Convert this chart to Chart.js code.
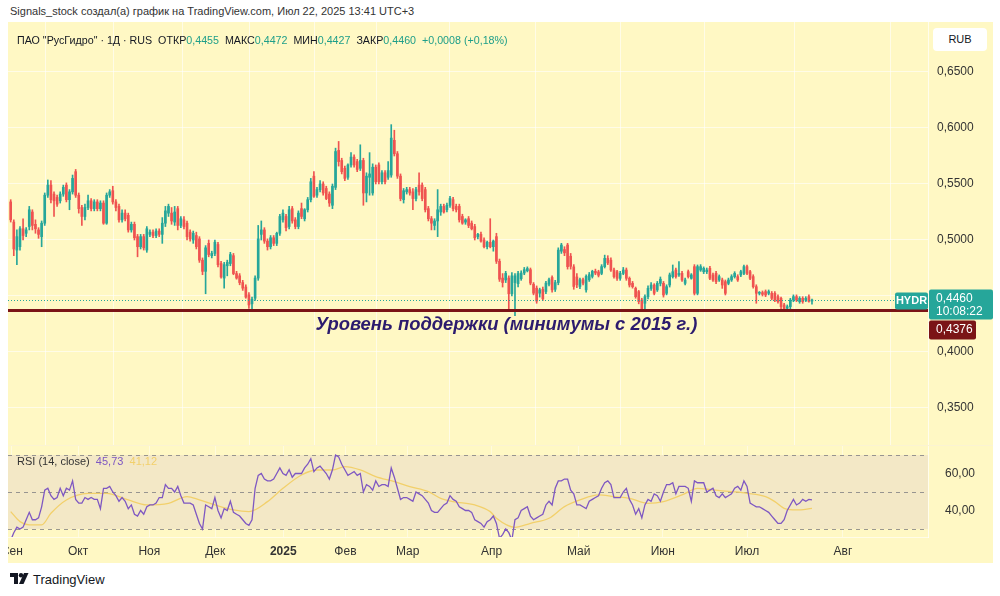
<!DOCTYPE html>
<html lang="ru">
<head>
<meta charset="utf-8">
<script src="https://cdn.jsdelivr.net/npm/chart.js@4.4.1/dist/chart.umd.min.js"></script>
<style>
html,body{margin:0;padding:0;background:#fff;}
body{width:1000px;height:596px;position:relative;overflow:hidden;font-family:"Liberation Sans",Arial,sans-serif;}
#hdr{position:absolute;left:10px;top:5px;font-size:11px;color:#333;white-space:nowrap;}
#panel{position:absolute;left:8px;top:22px;width:985px;height:541px;background:#FFF8C4;}
#c1{position:absolute;left:8px;top:22px;}
#c2{position:absolute;left:8px;top:446px;}
#sep{position:absolute;left:8px;top:445px;width:985px;height:1px;background:#FBF3D2;}
#leg{position:absolute;left:17px;top:34px;font-size:10.7px;color:#131722;white-space:nowrap;}
#leg .v{color:#1E9E89;}
#rub{position:absolute;left:933px;top:28px;width:54px;height:23px;background:#fff;border-radius:4px;font-size:11px;color:#131722;text-align:center;line-height:23px;}
#rsileg{position:absolute;left:17px;top:455px;font-size:11px;color:#333;white-space:nowrap;}
#rsileg .a{color:#7E57C2;}
#rsileg .b{color:#F2D06B;}
#logo{position:absolute;left:10px;top:571px;height:16px;display:flex;align-items:center;font-size:13px;color:#131722;}
#logo svg{margin-right:4px;}
</style>
</head>
<body>
<div id="hdr">Signals_stock создал(а) график на TradingView.com, Июл 22, 2025 13:41 UTC+3</div>
<div id="panel"></div>
<canvas id="c1" width="985" height="423"></canvas>
<div id="sep"></div>
<canvas id="c2" width="985" height="117"></canvas>
<div id="leg"></div>
<div id="rub">RUB</div>
<div id="rsileg"></div>
<div id="logo"><svg width="19" height="12" viewBox="0 0 19 12"><path d="M0 0h8v11H4V4H0z" fill="#131722"/><circle cx="11" cy="2.2" r="2.2" fill="#131722"/><path d="M9 11L14 0h4.5l-5 11z" fill="#131722"/></svg><span>TradingView</span></div>
<script>
// ---------------- DATA ----------------
const opens = [
0.534,0.516,0.491,0.494,0.510,0.506,0.512,0.525,0.514,0.509,
0.503,0.515,0.540,0.549,0.541,0.538,0.535,0.541,0.549,0.536,
0.543,0.561,0.540,0.529,0.521,0.529,0.535,0.528,0.534,0.528,
0.533,0.515,0.540,0.544,0.534,0.530,0.518,0.524,0.522,0.509,
0.514,0.503,0.494,0.503,0.491,0.505,0.507,0.504,0.508,0.505,
0.515,0.524,0.524,0.516,0.528,0.513,0.518,0.515,0.507,0.500,
0.504,0.501,0.482,0.472,0.497,0.486,0.488,0.496,0.479,0.466,
0.477,0.479,0.486,0.470,0.468,0.462,0.458,0.451,0.443,0.448,
0.466,0.505,0.509,0.499,0.494,0.502,0.497,0.506,0.518,0.521,
0.512,0.528,0.518,0.512,0.528,0.519,0.527,0.536,0.557,0.540,
0.545,0.550,0.546,0.541,0.531,0.547,0.580,0.571,0.564,0.556,
0.567,0.574,0.570,0.564,0.571,0.542,0.556,0.542,0.565,0.567,
0.552,0.560,0.556,0.558,0.589,0.577,0.557,0.536,0.543,0.545,
0.543,0.537,0.549,0.549,0.545,0.528,0.519,0.513,0.517,0.525,
0.530,0.527,0.531,0.536,0.530,0.530,0.521,0.516,0.519,0.515,
0.512,0.503,0.505,0.500,0.494,0.498,0.494,0.503,0.481,0.466,
0.4643,0.466,0.452,0.462,0.461,0.4655,0.4705,0.4725,0.4735,0.4605,
0.457,0.4525,0.456,0.454,0.4605,0.4665,0.456,0.462,0.490,0.4915,
0.4955,0.4855,0.476,0.467,0.4585,0.4645,0.4555,0.4645,0.4675,0.472,
0.4715,0.4702,0.4762,0.4836,0.482,0.4732,0.4717,0.4658,0.4702,0.4732,
0.4658,0.4613,0.4568,0.4539,0.4464,0.4435,0.4494,0.4568,0.4598,0.4554,0.4613,
0.4613,0.4524,0.4598,0.4673,0.4732,0.4688,0.4702,0.4613,0.4717,0.4658,
0.4762,0.4524,0.4732,0.4717,0.4717,0.4747,0.4688,0.4702,0.4643,0.4643,
0.4628,0.4613,0.4643,0.4673,0.4673,0.4688,0.4702,0.4762,0.4717,0.4673,
0.4583,0.4524,0.4530,0.4539,0.4524,0.4524,0.4524,0.4494,0.4479,0.4420,
0.4390,0.4405,0.4464,0.4494,0.4449,0.4479,0.4464,0.4494,0.4455
];
const highs = [
0.536,0.518,0.509,0.512,0.519,0.511,0.530,0.527,0.518,0.511,
0.517,0.542,0.5536,0.553,0.543,0.540,0.543,0.549,0.551,0.545,
0.558,0.563,0.542,0.531,0.532,0.540,0.537,0.536,0.536,0.535,
0.535,0.542,0.545,0.548,0.536,0.532,0.527,0.527,0.524,0.516,
0.516,0.505,0.505,0.505,0.512,0.509,0.509,0.510,0.510,0.520,
0.530,0.532,0.529,0.530,0.530,0.521,0.521,0.517,0.509,0.508,
0.507,0.503,0.484,0.495,0.500,0.490,0.500,0.498,0.481,0.480,
0.482,0.489,0.488,0.472,0.470,0.464,0.460,0.453,0.449,0.468,
0.513,0.517,0.511,0.501,0.504,0.504,0.507,0.523,0.527,0.523,
0.530,0.530,0.520,0.526,0.533,0.528,0.538,0.555,0.561,0.547,
0.553,0.552,0.548,0.543,0.550,0.582,0.588,0.573,0.566,0.568,
0.578,0.576,0.572,0.585,0.573,0.560,0.578,0.568,0.567,0.569,
0.562,0.562,0.570,0.603,0.598,0.579,0.559,0.546,0.547,0.547,
0.546,0.547,0.560,0.551,0.547,0.530,0.521,0.519,0.545,0.532,
0.532,0.533,0.539,0.538,0.532,0.532,0.523,0.519,0.521,0.517,
0.514,0.506,0.507,0.502,0.499,0.519,0.500,0.506,0.483,0.470,
0.472,0.468,0.471,0.470,0.472,0.4725,0.4755,0.476,0.475,0.462,
0.459,0.457,0.458,0.463,0.466,0.468,0.464,0.493,0.497,0.494,
0.497,0.488,0.478,0.470,0.466,0.466,0.469,0.471,0.473,0.474,
0.473,0.478,0.4865,0.486,0.484,0.475,0.473,0.472,0.4755,0.475,
0.467,0.463,0.458,0.455,0.448,0.451,0.459,0.462,0.461,0.463,0.467,
0.463,0.460,0.4705,0.4777,0.475,0.4807,0.472,0.466,0.4732,0.470,
0.478,0.4777,0.478,0.476,0.475,0.4765,0.4705,0.472,0.4688,0.466,
0.4643,0.466,0.469,0.4717,0.469,0.473,0.4777,0.4777,0.473,0.469,
0.460,0.454,0.4545,0.4554,0.4554,0.454,0.4539,0.451,0.449,0.4435,
0.442,0.4479,0.451,0.451,0.4494,0.4494,0.4494,0.451,0.4472
];
const lows = [
0.516,0.486,0.478,0.491,0.500,0.503,0.509,0.509,0.506,0.5015,
0.494,0.513,0.538,0.533,0.521,0.530,0.533,0.539,0.534,0.527,
0.541,0.538,0.524,0.513,0.518,0.527,0.526,0.526,0.526,0.526,
0.514,0.514,0.538,0.532,0.526,0.516,0.516,0.517,0.507,0.507,
0.500,0.485,0.492,0.491,0.489,0.503,0.502,0.502,0.503,0.497,
0.512,0.521,0.514,0.513,0.509,0.511,0.510,0.500,0.499,0.497,
0.492,0.480,0.469,0.452,0.485,0.484,0.486,0.476,0.466,0.457,
0.468,0.477,0.469,0.465,0.460,0.455,0.448,0.439,0.4385,0.446,
0.464,0.500,0.497,0.491,0.492,0.495,0.495,0.504,0.516,0.508,
0.510,0.515,0.510,0.510,0.519,0.517,0.525,0.534,0.538,0.538,
0.543,0.540,0.536,0.530,0.528,0.545,0.566,0.559,0.553,0.554,
0.565,0.565,0.561,0.562,0.531,0.534,0.540,0.540,0.550,0.550,
0.550,0.550,0.554,0.556,0.575,0.555,0.535,0.533,0.541,0.540,
0.527,0.535,0.540,0.535,0.525,0.517,0.509,0.509,0.503,0.522,
0.524,0.525,0.529,0.526,0.525,0.516,0.514,0.514,0.511,0.509,
0.500,0.501,0.498,0.493,0.492,0.493,0.490,0.479,0.463,0.458,
0.462,0.4375,0.450,0.4325,0.458,0.464,0.469,0.4715,0.460,0.451,
0.4435,0.449,0.446,0.452,0.459,0.4535,0.454,0.460,0.488,0.486,
0.474,0.474,0.456,0.4575,0.4565,0.460,0.4535,0.463,0.466,0.469,
0.467,0.469,0.475,0.478,0.472,0.466,0.464,0.464,0.469,0.464,
0.458,0.457,0.448,0.443,0.436,0.4365,0.4475,0.455,0.451,0.454,0.459,
0.449,0.451,0.458,0.466,0.466,0.4675,0.463,0.4598,0.466,0.465,
0.4509,0.451,0.472,0.470,0.470,0.4645,0.463,0.461,0.463,0.4568,
0.4509,0.460,0.463,0.466,0.463,0.4673,0.469,0.469,0.4645,0.457,
0.4435,0.4509,0.4500,0.4494,0.451,0.4465,0.445,0.4435,0.4375,0.437,
0.4375,0.436,0.4449,0.445,0.4435,0.4435,0.445,0.4445,0.4427
];
const closes = [
0.518,0.492,0.503,0.510,0.504,0.509,0.527,0.513,0.510,0.505,
0.515,0.540,0.549,0.536,0.535,0.532,0.541,0.547,0.536,0.543,
0.555,0.540,0.528,0.521,0.529,0.535,0.528,0.534,0.528,0.533,
0.515,0.540,0.543,0.534,0.529,0.518,0.524,0.519,0.509,0.514,
0.502,0.494,0.503,0.493,0.510,0.507,0.504,0.508,0.505,0.515,
0.526,0.530,0.517,0.525,0.513,0.519,0.512,0.503,0.501,0.506,
0.494,0.482,0.472,0.493,0.487,0.488,0.498,0.478,0.467,0.478,
0.480,0.487,0.470,0.466,0.462,0.457,0.449,0.442,0.447,0.466,
0.501,0.509,0.499,0.494,0.502,0.497,0.506,0.521,0.524,0.511,
0.527,0.517,0.512,0.524,0.521,0.527,0.536,0.552,0.539,0.545,
0.550,0.542,0.537,0.533,0.548,0.579,0.570,0.561,0.555,0.567,
0.574,0.567,0.563,0.571,0.542,0.557,0.559,0.565,0.552,0.552,
0.560,0.552,0.562,0.591,0.577,0.557,0.537,0.544,0.545,0.542,
0.537,0.545,0.543,0.537,0.527,0.519,0.515,0.517,0.527,0.530,
0.525,0.531,0.537,0.528,0.527,0.518,0.515,0.518,0.513,0.510,
0.502,0.505,0.499,0.494,0.498,0.494,0.499,0.481,0.465,0.462,
0.4702,0.452,0.468,0.468,0.470,0.4705,0.4735,0.4745,0.4615,0.4525,
0.4455,0.4555,0.4475,0.4615,0.4645,0.4555,0.462,0.491,0.4955,0.4885,
0.4762,0.4765,0.4585,0.460,0.4645,0.4615,0.4675,0.469,0.472,0.4705,
0.4685,0.4762,0.4836,0.4795,0.4732,0.4673,0.4658,0.4702,0.4732,0.4658,
0.4598,0.4583,0.4494,0.4450,0.4375,0.4494,0.4568,0.4598,0.4524,0.4613,0.465,
0.4509,0.4583,0.4688,0.4717,0.4673,0.4702,0.4643,0.4643,0.4673,0.4688,
0.4524,0.4762,0.4762,0.4747,0.4732,0.4658,0.4643,0.4628,0.4673,0.4598,
0.4524,0.4643,0.4673,0.4702,0.4643,0.4717,0.4762,0.4702,0.4658,0.4583,
0.4524,0.4530,0.4515,0.4509,0.4539,0.4479,0.4464,0.4449,0.4405,0.4375,
0.4405,0.4464,0.4494,0.4464,0.4479,0.4449,0.4479,0.4452,0.4460
];
const rsi = [
24,28,31,30,31,35,39,35,35,36,
42,51,52,48,46,47,52,48,52,51,
56,46,44,44,47,46,47,46,46,41,
52,52,53,50,48,45,47,45,41,43,
38,37,40,38,42,43,43,44,47,47,
54,52,52,50,53,48,44,44,44,43,
38,33,30,43,42,41,47,40,36,41,
40,45,39,38,37,35,33,32,35,52,
59,60,57,56,56,57,60,63,60,59,
62,58,60,60,60,63,65,68,61,63,
64,62,60,57,62,70,69,65,62,59,
60,61,59,60,50,54,53,51,56,53,
54,54,53,63,58,52,46,47,47,46,
45,50,49,48,46,44,40,39,39,41,
43,44,48,46,45,42,41,40,40,39,
35,34,33,31,34,35,37,33,25,27,
30,28,24,35,36,40,41,42,37,35,
36,37,38,43,45,43,52,56,56,57,
57,51,49,43,43,42,41,45,46,47,
48,52,55,56,54,47,47,47,50,52,
46,43,38,41,36,43,46,45,49,48,
45,50,54,54,55,49,53,53,53,52,
45,56,55,55,55,50,51,52,48,47,
49,47,48,49,52,53,51,56,53,44,
43,42,42,41,40,39,37,35,33,33,
35,40,43,46,43,44,46,45,46,45.73
];
const maIdx = [0,3,6,10,13,18,25,31,38,44,51,57,61,66,72,77,83,88,94,99,104,108,113,118,124,129,135,139,143,150,155,157,163,168,174,179,184,190,195,200,206,211,217,222,227,233,238,244,247,250,254,259];
const maVal = [39.4,34,32.2,32.2,38.5,45.7,49.3,49.3,45.7,43,43.9,47.5,45.7,43,40.3,39.4,44.8,52,59.2,61.9,61.9,63.7,61.9,58.3,55.6,52.9,50.2,46.6,44.8,43,39.4,35.8,30.9,33.1,35.8,42.1,45.7,48.4,47.5,46.6,43.9,44.8,48.4,52,51.1,50.2,49.3,47.5,44.8,41.2,40.3,41.12];
const monthIdx = [0.4,21.8,44.8,66.1,88.1,108.2,128.3,155.4,183.6,210.8,238,269];
const monthLbl = ['Сен','Окт','Ноя','Дек','2025','Фев','Мар','Апр','Май','Июн','Июл','Авг'];
const priceTicks = [0.35,0.40,0.45,0.50,0.55,0.60,0.65];
const rsiTicks = [40,60];
const rsiLevels = [70,50,30];
const supportLevel = 0.4376;
const supportText = 'Уровень поддержки (минимумы с 2015 г.)';
const ticker = 'HYDR';
const timerText = '10:08:22';

// ---------------- RENDER ----------------
const N = closes.length;
const X_MIN = -0.873, X_MAX = 296.5;
const UP = '#26A69A', DOWN = '#EF5350';
const FONT = '"Liberation Sans", Arial, sans-serif';
const fmt4 = v => v.toFixed(4).replace('.', ',');
const fmt2 = v => v.toFixed(2).replace('.', ',');
const colors = opens.map((o, i) => closes[i] >= o ? UP : DOWN);
const noPad = s => { s.paddingLeft = 0; s.paddingRight = 0; s.paddingTop = 0; s.paddingBottom = 0; };
const idx = closes.map((_, i) => i);

// legends
const last = N - 1, chg = closes[last] - closes[last - 1];
document.getElementById('leg').innerHTML =
  'ПАО "РусГидро" · 1Д · RUS&nbsp;&nbsp;ОТКР<span class="v">' + fmt4(opens[last]) + '</span>&nbsp;&nbsp;МАКС<span class="v">' + fmt4(highs[last]) +
  '</span>&nbsp;&nbsp;МИН<span class="v">' + fmt4(lows[last]) + '</span>&nbsp;&nbsp;ЗАКР<span class="v">' + fmt4(closes[last]) +
  '</span>&nbsp;&nbsp;<span class="v">' + (chg >= 0 ? '+' : '') + fmt4(chg) + ' (' + (chg >= 0 ? '+' : '') + fmt2(chg / closes[last - 1] * 100) + '%)</span>';
document.getElementById('rsileg').innerHTML = 'RSI (14, close)&nbsp;&nbsp;<span class="a">' + fmt2(rsi[last]) + '</span>&nbsp;&nbsp;<span class="b">' + fmt2(maVal[maVal.length - 1]) + '</span>';

function rr(ctx, x, y, w, h, r) {
  ctx.beginPath();
  ctx.moveTo(x + r, y); ctx.lineTo(x + w - r, y); ctx.quadraticCurveTo(x + w, y, x + w, y + r);
  ctx.lineTo(x + w, y + h - r); ctx.quadraticCurveTo(x + w, y + h, x + w - r, y + h);
  ctx.lineTo(x + r, y + h); ctx.quadraticCurveTo(x, y + h, x, y + h - r);
  ctx.lineTo(x, y + r); ctx.quadraticCurveTo(x, y, x + r, y); ctx.closePath();
}

const mainOverlay = {
  id: 'mainOverlay',
  afterDatasetsDraw(chart) {
    const { ctx, chartArea: a, scales: { x, y } } = chart;
    ctx.save();
    const yl = Math.round(y.getPixelForValue(closes[last])) + 0.5;
    ctx.strokeStyle = UP; ctx.lineWidth = 1; ctx.setLineDash([1, 2]);
    ctx.beginPath(); ctx.moveTo(a.left, yl); ctx.lineTo(a.right, yl); ctx.stroke();
    ctx.setLineDash([]);
    const ys = Math.round(y.getPixelForValue(supportLevel)) + 0.5;
    ctx.strokeStyle = '#7B1416'; ctx.lineWidth = 3;
    ctx.beginPath(); ctx.moveTo(a.left, ys); ctx.lineTo(a.right, ys); ctx.stroke();
    ctx.font = 'italic bold 18.4px ' + FONT; ctx.fillStyle = '#2C1B6E'; ctx.textBaseline = 'middle'; ctx.textAlign = 'left';
    ctx.fillText(supportText, x.getPixelForValue(98.5), y.getPixelForValue(0.4241));
    ctx.restore();
  },
  afterDraw(chart) {
    const { ctx, chartArea: a, scales: { y } } = chart;
    const yl = y.getPixelForValue(closes[last]);
    ctx.save();
    ctx.textBaseline = 'middle'; ctx.textAlign = 'center';
    ctx.fillStyle = UP; rr(ctx, a.right - 33, yl - 8, 33, 17, 2); ctx.fill();
    ctx.fillStyle = '#fff'; ctx.font = 'bold 11px ' + FONT; ctx.fillText(ticker, a.right - 16.5, yl + 0.5);
    ctx.fillStyle = UP; rr(ctx, a.right + 1, yl - 11, 64, 30, 2); ctx.fill();
    ctx.fillStyle = '#fff'; ctx.font = '12px ' + FONT; ctx.textAlign = 'left';
    ctx.fillText(fmt4(closes[last]), a.right + 8, yl - 2);
    ctx.fillText(timerText, a.right + 8, yl + 11);
    ctx.fillStyle = '#7B1416'; rr(ctx, a.right + 1, yl + 20, 47, 19, 2); ctx.fill();
    ctx.fillStyle = '#fff'; ctx.fillText(fmt4(supportLevel), a.right + 8, yl + 29.5);
    ctx.restore();
  }
};

new Chart(document.getElementById('c1'), {
  type: 'bar',
  data: {
    datasets: [
      { data: idx.map(i => ({ x: i, y: [opens[i], closes[i]] })), backgroundColor: colors, barThickness: 2, minBarLength: 1, grouped: false, borderWidth: 0 },
      { data: idx.map(i => ({ x: i, y: [lows[i], highs[i]] })), backgroundColor: colors, barThickness: 1, grouped: false, borderWidth: 0 }
    ]
  },
  options: {
    responsive: false, animation: false, events: [],
    layout: { padding: 0 },
    plugins: { legend: { display: false }, tooltip: { enabled: false } },
    scales: {
      x: {
        type: 'linear', min: X_MIN, max: X_MAX, offset: false,
        afterBuildTicks: s => { s.ticks = monthIdx.map(v => ({ value: v })); },
        ticks: { display: false },
        grid: { color: 'rgba(255,255,255,0.6)', drawTicks: false },
        border: { display: false },
        afterFit: s => { s.height = 0; noPad(s); }
      },
      y: {
        position: 'right', min: 0.31696, max: 0.69464,
        afterBuildTicks: s => { s.ticks = priceTicks.map(v => ({ value: v })); },
        ticks: { callback: v => fmt4(v), color: '#333', font: { size: 12, family: FONT }, padding: 9 },
        grid: { color: 'rgba(255,255,255,0.6)', drawTicks: false },
        border: { display: true, color: 'rgba(255,255,255,0.7)' },
        afterFit: s => { s.width = 65; noPad(s); }
      }
    }
  },
  plugins: [mainOverlay]
});

const rsiOverlay = {
  id: 'rsiOverlay',
  beforeDatasetsDraw(chart) {
    const { ctx, chartArea: a, scales: { y } } = chart;
    const y70 = y.getPixelForValue(rsiLevels[0]), y30 = y.getPixelForValue(rsiLevels[2]);
    ctx.save();
    ctx.fillStyle = '#F3E8C6'; ctx.fillRect(a.left, y70, a.right - a.left, y30 - y70);
    ctx.setLineDash([4, 4]); ctx.strokeStyle = 'rgba(120,120,125,0.75)'; ctx.lineWidth = 1;
    rsiLevels.forEach(l => {
      const yy = Math.round(y.getPixelForValue(l)) + 0.5;
      ctx.beginPath(); ctx.moveTo(a.left, yy); ctx.lineTo(a.right, yy); ctx.stroke();
    });
    ctx.restore();
  }
};

new Chart(document.getElementById('c2'), {
  type: 'line',
  data: {
    datasets: [
      { data: idx.map(i => ({ x: i, y: rsi[i] })), borderColor: '#7E57C2', borderWidth: 1.3, pointRadius: 0, tension: 0 },
      { data: maIdx.map((v, k) => ({ x: v, y: maVal[k] })), borderColor: '#F2D06B', borderWidth: 1.3, pointRadius: 0, cubicInterpolationMode: 'monotone' }
    ]
  },
  options: {
    responsive: false, animation: false, events: [],
    layout: { padding: 0 },
    plugins: { legend: { display: false }, tooltip: { enabled: false } },
    scales: {
      x: {
        type: 'linear', min: X_MIN, max: X_MAX, offset: false,
        afterBuildTicks: s => { s.ticks = monthIdx.map(v => ({ value: v })); },
        ticks: {
          autoSkip: false, maxRotation: 0, padding: 7, color: '#333',
          callback: (v, i) => monthLbl[i],
          font: c => ({ size: 12, family: FONT, weight: (c.tick && c.tick.label === '2025') ? 'bold' : 'normal' })
        },
        grid: { color: 'rgba(255,255,255,0.45)', drawTicks: false },
        border: { display: true, color: 'rgba(255,255,255,0.6)' },
        afterFit: s => { s.height = 26; noPad(s); }
      },
      y: {
        position: 'right', min: 25.68, max: 74.86,
        afterBuildTicks: s => { s.ticks = rsiTicks.map(v => ({ value: v })); },
        ticks: { callback: v => fmt2(v), color: '#333', font: { size: 12, family: FONT }, padding: 9 },
        grid: { display: false },
        border: { display: true, color: 'rgba(255,255,255,0.7)' },
        afterFit: s => { s.width = 65; noPad(s); }
      }
    }
  },
  plugins: [rsiOverlay]
});
</script>
</body>
</html>
